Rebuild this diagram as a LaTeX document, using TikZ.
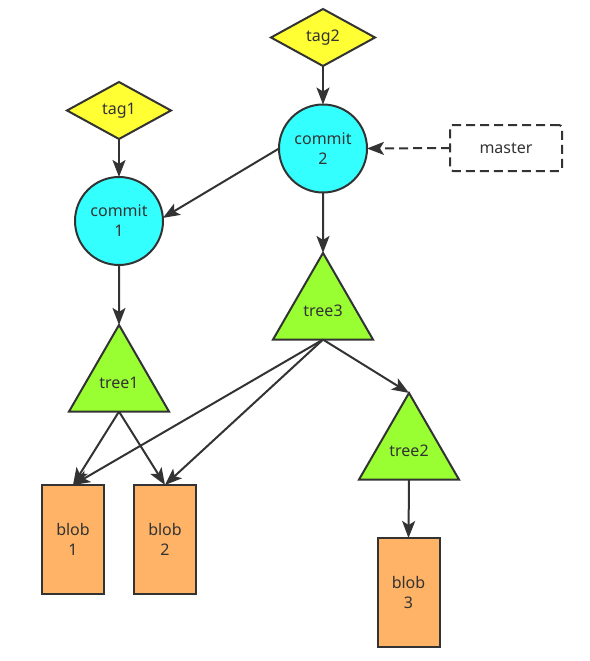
\documentclass[tikz,border=0pt]{standalone}
\usepackage{fontspec}
\setmainfont{Noto Sans}
\usetikzlibrary{shapes.geometric,arrows.meta}
\definecolor{ln}{HTML}{333333}
\definecolor{tagc}{HTML}{FFFF33}
\definecolor{comc}{HTML}{33FFFF}
\definecolor{trc}{HTML}{99FF33}
\definecolor{blc}{HTML}{FFB366}
\tikzset{
  base/.style={draw=ln,line width=2pt,text=ln,font=\fontsize{16}{20}\selectfont,inner sep=0pt,outer sep=0pt,align=center},
  tagnode/.style={base,diamond,fill=tagc,minimum width=104pt,minimum height=57pt},
  comnode/.style={base,circle,fill=comc,minimum size=88pt},
  treenode/.style={base,regular polygon,regular polygon sides=3,fill=trc,minimum size=115.5pt},
  blobnode/.style={base,rectangle,fill=blc,minimum width=62pt,minimum height=109pt},
  refnode/.style={base,rectangle,rounded corners=3pt,dash pattern=on 9pt off 5pt,fill=white,minimum width=112pt,minimum height=46pt},
  conn/.style={draw=ln,line width=2pt,-{Stealth[length=17pt,width=13pt,inset=4pt]}},
}
\begin{document}
\begin{tikzpicture}[x=1pt,y=-1pt]
\useasboundingbox (0,0) rectangle (589,661);
\node[tagnode] (tag2) at (323,37.5) {tag2};
\node[tagnode] (tag1) at (119,110.5) {tag1};
\node[comnode] (commit2) at (323,148.5) {commit\\2};
\node[comnode] (commit1) at (119,221) {commit\\1};
\node[refnode] (master) at (506,148) {master};
\node[treenode] (tree3) at (323,310.7) {tree3};
\node[treenode] (tree1) at (119,382.7) {tree1};
\node[treenode] (tree2) at (409,450.7) {tree2};
\node[blobnode] (blob1) at (73,539.5) {blob\\1};
\node[blobnode] (blob2) at (165,539.5) {blob\\2};
\node[blobnode] (blob3) at (408.5,592.5) {blob\\3};
\draw[conn] (tag2.south) -- (commit2.north);
\draw[conn] (tag1.south) -- (commit1.north);
\draw[conn,dash pattern=on 9pt off 5pt] (master.west) -- (commit2.east);
\draw[conn] (commit2.west) -- (commit1.4);
\draw[conn] (commit2.south) -- (tree3.north);
\draw[conn] (commit1.south) -- (tree1.north);
\draw[conn] (tree3.south) -- (blob1.north);
\draw[conn] (tree3.south) -- (blob2.north);
\draw[conn] (tree3.south) -- (tree2.north);
\draw[conn] (tree1.south) -- (blob1.north);
\draw[conn] (tree1.south) -- (blob2.north);
\draw[conn] (tree2.south) -- (blob3.north);
\end{tikzpicture}
\end{document}
